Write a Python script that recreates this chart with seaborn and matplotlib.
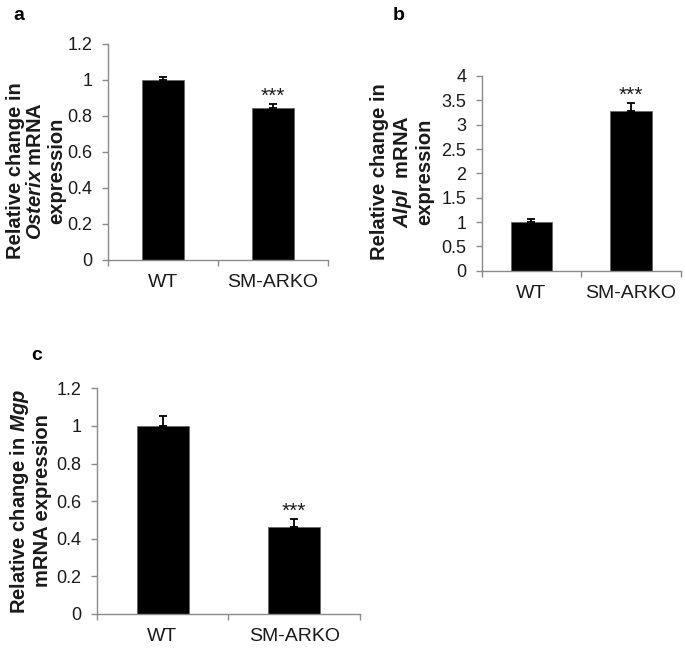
import matplotlib
matplotlib.use("Agg")
import matplotlib.pyplot as plt
import seaborn as sns
import pandas as pd
from matplotlib.ticker import FuncFormatter, FixedLocator

# ---------------- data ----------------
groups = ["WT", "SM-ARKO"]

osterix_mean = [1.0, 0.845]
osterix_err = [0.015, 0.022]

alpl_mean = [1.0, 3.28]
alpl_err = [0.055, 0.16]

mgp_mean = [1.0, 0.46]
mgp_err = [0.055, 0.045]

significance = ["", "***"]

panel_letters = ["a", "b", "c"]
ylabels = [
    "Relative change in\n$\\mathbfit{Osterix}$ mRNA\nexpression",
    "Relative change in\n$\\mathbfit{Alpl}$  mRNA\nexpression",
    "Relative change in $\\mathbfit{Mgp}$\nmRNA expression",
]
yticks_a = [0, 0.2, 0.4, 0.6, 0.8, 1.0, 1.2]
yticks_b = [0, 0.5, 1, 1.5, 2, 2.5, 3, 3.5, 4]
yticks_c = [0, 0.2, 0.4, 0.6, 0.8, 1.0, 1.2]

# ---------------- style ----------------
sns.set_theme(style="white")
plt.rcParams["font.family"] = ["Liberation Sans", "DejaVu Sans"]
plt.rcParams["mathtext.fontset"] = "custom"
plt.rcParams["mathtext.rm"] = "Liberation Sans"
plt.rcParams["mathtext.it"] = "Liberation Sans:italic"
plt.rcParams["mathtext.bf"] = "Liberation Sans:bold"
plt.rcParams["mathtext.bfit"] = "Liberation Sans:italic:bold"

W, H = 685, 648
fig = plt.figure(figsize=(W / 100, H / 100), dpi=100)

spine_col = "#8a8a8a"
text_col = "#1a1a1a"


def px_axes(left, right, top, bottom):
    return fig.add_axes([left / W, 1 - bottom / H, (right - left) / W, (bottom - top) / H])


def draw_panel(ax, means, errs, yticks, bar_w):
    df = pd.DataFrame({"group": groups, "value": means})
    sns.barplot(data=df, x="group", y="value", color="black", saturation=1,
                width=bar_w, errorbar=None, edgecolor="#666666", linewidth=0.6, ax=ax)
    xs = list(range(len(groups)))
    ax.errorbar(xs, means, yerr=[[0] * len(errs), errs], fmt="none",
                ecolor="black", elinewidth=1.3, capsize=3.2, capthick=1.3, zorder=5)
    for x, m, e, s in zip(xs, means, errs, significance):
        if s:
            ax.annotate(s, xy=(x, m + e), xytext=(0, 1.5), textcoords="offset points",
                        ha="center", va="baseline", fontsize=15, color=text_col)
    ax.set_xlim(-0.5, len(groups) - 0.5)
    ax.set_ylim(yticks[0], yticks[-1])
    ax.yaxis.set_major_locator(FixedLocator(yticks))
    ax.yaxis.set_major_formatter(FuncFormatter(lambda v, p: f"{v:g}"))
    ax.set_xlabel("")
    ax.set_ylabel("")
    for sp in ["top", "right"]:
        ax.spines[sp].set_visible(False)
    for sp in ["left", "bottom"]:
        ax.spines[sp].set_color(spine_col)
        ax.spines[sp].set_linewidth(1.0)
    ax.tick_params(axis="y", which="major", direction="out", length=4, width=1,
                   color=spine_col, pad=7, labelsize=13, labelcolor=text_col, left=True)
    ax.tick_params(axis="x", which="major", length=0, pad=10, labelsize=14,
                   labelcolor=text_col, bottom=True)
    ax.set_xticks([i - 0.5 for i in range(len(groups) + 1)], minor=True)
    ax.tick_params(axis="x", which="minor", direction="out", length=4, width=1,
                   color=spine_col, bottom=True)


ax_a = px_axes(108, 328, 44, 260)
draw_panel(ax_a, osterix_mean, osterix_err, yticks_a, 0.39)

ax_b = px_axes(481.7, 680.7, 76, 270.7)
draw_panel(ax_b, alpl_mean, alpl_err, yticks_b, 0.42)

ax_c = px_axes(96.7, 360, 388.3, 614)
draw_panel(ax_c, mgp_mean, mgp_err, yticks_c, 0.395)

# y labels (multi-line, bold)
ylab_pos = [(36, 171), (402, 172), (30, 501)]
for (x, y), lab in zip(ylab_pos, ylabels):
    fig.text(x / W, 1 - y / H, lab, rotation=90, ha="center", va="center",
             multialignment="center", fontsize=14.5, fontweight="bold",
             linespacing=1.12, color=text_col)

# panel letters
letter_pos = [(19, 15), (399, 15), (37, 355)]
for (x, y), let in zip(letter_pos, panel_letters):
    fig.text(x / W, 1 - y / H, let, ha="center", va="center",
             fontsize=14, fontweight="bold", color="black")

fig.savefig("out.png", dpi=100, facecolor="white")
